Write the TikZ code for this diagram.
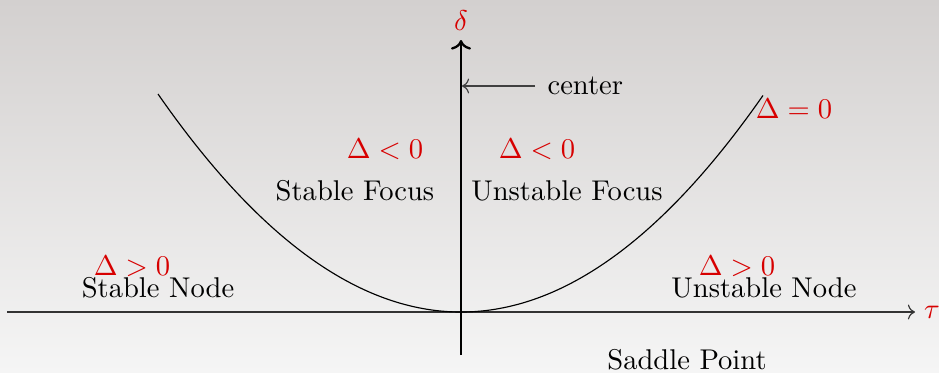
\documentclass[tikz,border=0pt]{standalone}
\usetikzlibrary{arrows.meta}
\definecolor{condred}{RGB}{215,0,0}
\begin{document}
\begin{tikzpicture}[x=0.35pt,y=-0.35pt,
  lbl/.style={inner sep=0pt,anchor=base},
  cond/.style={lbl,text=condred}]
\useasboundingbox (0,0) rectangle (939,372);
\shade[top color={rgb,255:red,211;green,208;blue,207},bottom color={rgb,255:red,245;green,245;blue,245}] (0,0) rectangle (939,372);
% axes
\coordinate (xl) at (7,312);
\coordinate (xr) at (915,312);
\coordinate (yb) at (461,355);
\coordinate (yt) at (461,40);
\draw[->,draw=black!80] (xl) -- (xr);
\draw[thick,->] (yb) -- (yt);
\node[cond] (tau) at (932,318) {$\tau$};
\node[cond] (delta) at (461,30) {$\delta$};
% parabola
\draw[domain=-303:302,samples=100,smooth] plot (\x+461,{312-218*(\x/303)*(\x/303)});
% labels
\node[lbl,anchor=base west] (center) at (547,94) {center};
\coordinate (cax) at (462,86);
\draw[->,draw=black!75] (535,86) -- (cax);
\node[cond] (dl) at (385,158) {$\Delta<0$};
\node[cond] (dr) at (537,158) {$\Delta<0$};
\node[lbl] (sf) at (355,200) {Stable Focus};
\node[lbl] (uf) at (567,200) {Unstable Focus};
\node[cond] (dz) at (794,118) {$\Delta=0$};
\node[cond] (dgl) at (132,275) {$\Delta>0$};
\node[lbl] (sn) at (158,297) {Stable Node};
\node[cond] (dgr) at (737,275) {$\Delta>0$};
\node[lbl] (un) at (764,297) {Unstable Node};
\node[lbl] (sp) at (687,369) {Saddle Point};
\end{tikzpicture}
\end{document}
